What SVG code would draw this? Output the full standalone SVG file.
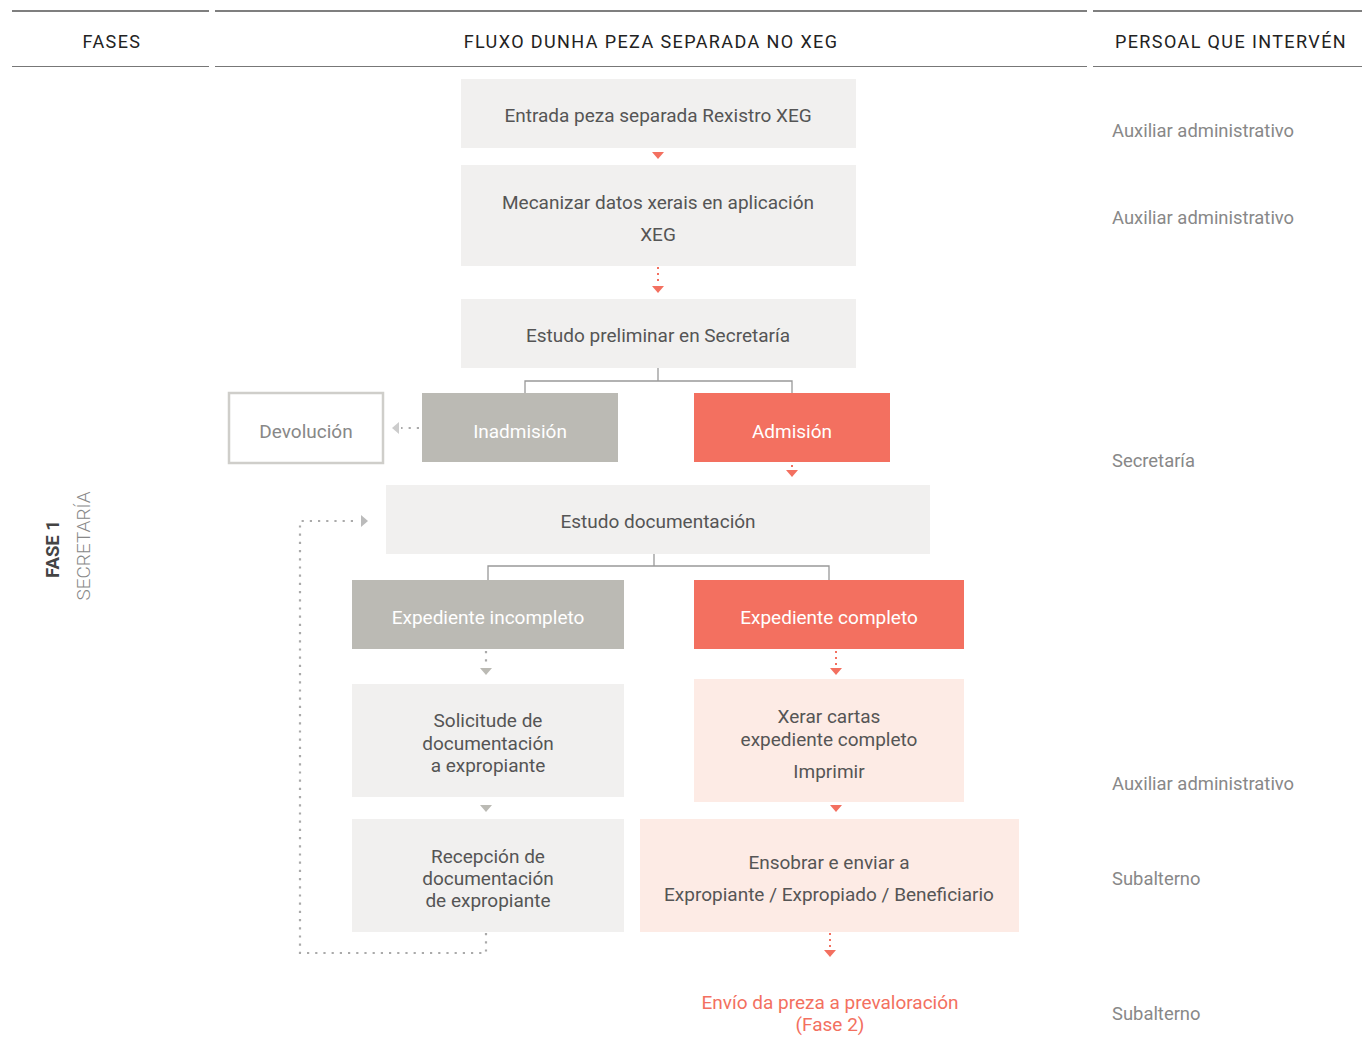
<svg xmlns="http://www.w3.org/2000/svg" width="1362" height="1051" viewBox="0 0 1362 1051">
<style>
text{font-family:Roboto,"Liberation Sans",sans-serif;}
.hd{font-size:18px;fill:#222;letter-spacing:1.4px;text-anchor:middle}
.t{font-size:19px;fill:#555;text-anchor:middle}
.tw{font-size:19px;fill:#fff;text-anchor:middle}
.r{font-size:18.4px;fill:#888}
.box{fill:#f1f0ef}
.gry{fill:#bbbab4}
.red{fill:#f37060}
.pink{fill:#fdebe5}
.rdot{stroke:#f37060;stroke-width:2;stroke-dasharray:2 4;fill:none}
.gdot{stroke:#aaa;stroke-width:2.2;stroke-dasharray:2.2 6;fill:none}
.tree{stroke:#999;stroke-width:1.3;fill:none}
</style>
<g id="header">
<line x1="12" y1="11" x2="209" y2="11" stroke="#555" stroke-width="1.6"/>
<line x1="215" y1="11" x2="1087" y2="11" stroke="#555" stroke-width="1.6"/>
<line x1="1093" y1="11" x2="1362" y2="11" stroke="#555" stroke-width="1.6"/>
<line x1="12" y1="66.5" x2="209" y2="66.5" stroke="#777" stroke-width="1"/>
<line x1="215" y1="66.5" x2="1087" y2="66.5" stroke="#777" stroke-width="1"/>
<line x1="1093" y1="66.5" x2="1362" y2="66.5" stroke="#777" stroke-width="1"/>
<text class="hd" x="112" y="48">FASES</text>
<text class="hd" x="651" y="48">FLUXO DUNHA PEZA SEPARADA NO XEG</text>
<text class="hd" x="1231" y="48">PERSOAL QUE INTERVÉN</text>
</g>
<g id="phase">
<text transform="translate(59,549) rotate(-90)" font-size="18.5" font-weight="bold" fill="#444" text-anchor="middle">FASE 1</text>
<text transform="translate(90,546) rotate(-90)" font-size="19" font-weight="300" fill="#888" text-anchor="middle">SECRETARÍA</text>
</g>
<g id="connectors">
<polygon points="652,152 664,152 658,159" fill="#f37060"/>
<line class="rdot" x1="658" y1="267" x2="658" y2="285"/>
<polygon points="652,286 664,286 658,293" fill="#f37060"/>
<polyline class="tree" points="658,368 658,381"/>
<polyline class="tree" points="525,393 525,381 792,381 792,393"/>
<line class="gdot" x1="419" y1="428" x2="401" y2="428" stroke="#bbb"/>
<polygon points="399,422 399,434 392,428" fill="#ccc"/>
<line class="rdot" x1="792" y1="465" x2="792" y2="468"/>
<polygon points="786,470 798,470 792,477" fill="#f37060"/>
<polyline class="tree" points="654,554 654,566"/>
<polyline class="tree" points="488,580 488,566 829,566 829,580"/>
<line class="gdot" x1="486" y1="651" x2="486" y2="667" stroke-dasharray="2 4" stroke="#ccc"/>
<polygon points="480,668 492,668 486,675" fill="#bbbab4"/>
<line class="rdot" x1="836" y1="651" x2="836" y2="667"/>
<polygon points="830,668 842,668 836,675" fill="#f37060"/>
<polygon points="480,805 492,805 486,812" fill="#bbbab4"/>
<polygon points="830,805 842,805 836,812" fill="#f37060"/>
<polyline class="gdot" points="486,933 486,953 300,953 300,521 359,521" stroke="#999"/>
<polygon points="361,515 361,527 368,521" fill="#bbb"/>
<line class="rdot" x1="830" y1="933" x2="830" y2="949"/>
<polygon points="824,950 836,950 830,957" fill="#f37060"/>
</g>
<g id="n-entrada"><rect class="box" x="461" y="79" width="395" height="69"/><text class="t" x="658" y="122">Entrada peza separada Rexistro XEG</text></g>
<g id="n-mecanizar"><rect class="box" x="461" y="165" width="395" height="101"/><text class="t" x="658" y="209">Mecanizar datos xerais en aplicación</text><text class="t" x="658" y="241">XEG</text></g>
<g id="n-estudo-prel"><rect class="box" x="461" y="299" width="395" height="69"/><text class="t" x="658" y="342">Estudo preliminar en Secretaría</text></g>
<g id="n-devolucion"><rect x="229" y="393" width="154" height="70" fill="#fff" stroke="#cfceca" stroke-width="2.5"/><text class="t" x="306" y="438" style="fill:#888">Devolución</text></g>
<g id="n-inadmision"><rect class="gry" x="422" y="393" width="196" height="69"/><text class="tw" x="520" y="438">Inadmisión</text></g>
<g id="n-admision"><rect class="red" x="694" y="393" width="196" height="69"/><text class="tw" x="792" y="438">Admisión</text></g>
<g id="n-estudo-doc"><rect class="box" x="386" y="485" width="544" height="69"/><text class="t" x="658" y="528">Estudo documentación</text></g>
<g id="n-incompleto"><rect class="gry" x="352" y="580" width="272" height="69"/><text class="tw" x="488" y="624">Expediente incompleto</text></g>
<g id="n-completo"><rect class="red" x="694" y="580" width="270" height="69"/><text class="tw" x="829" y="624">Expediente completo</text></g>
<g id="n-solicitude"><rect class="box" x="352" y="684" width="272" height="113"/><text class="t" x="488" y="727">Solicitude de</text><text class="t" x="488" y="750">documentación</text><text class="t" x="488" y="772">a expropiante</text></g>
<g id="n-xerar"><rect class="pink" x="694" y="679" width="270" height="123"/><text class="t" x="829" y="723">Xerar cartas</text><text class="t" x="829" y="746">expediente completo</text><text class="t" x="829" y="778">Imprimir</text></g>
<g id="n-recepcion"><rect class="box" x="352" y="819" width="272" height="113"/><text class="t" x="488" y="863">Recepción de</text><text class="t" x="488" y="885">documentación</text><text class="t" x="488" y="907">de expropiante</text></g>
<g id="n-ensobrar"><rect class="pink" x="640" y="819" width="379" height="113"/><text class="t" x="829" y="869">Ensobrar e enviar a</text><text class="t" x="829" y="901">Expropiante / Expropiado / Beneficiario</text></g>
<g id="n-envio"><text x="830" y="1009" font-size="19" fill="#f37060" text-anchor="middle">Envío da preza a prevaloración</text><text x="830" y="1031" font-size="19" fill="#f37060" text-anchor="middle">(Fase 2)</text></g>
<g id="personal">
<text class="r" x="1112" y="137">Auxiliar administrativo</text>
<text class="r" x="1112" y="224">Auxiliar administrativo</text>
<text class="r" x="1112" y="467">Secretaría</text>
<text class="r" x="1112" y="790">Auxiliar administrativo</text>
<text class="r" x="1112" y="885">Subalterno</text>
<text class="r" x="1112" y="1020">Subalterno</text>
</g>
</svg>
